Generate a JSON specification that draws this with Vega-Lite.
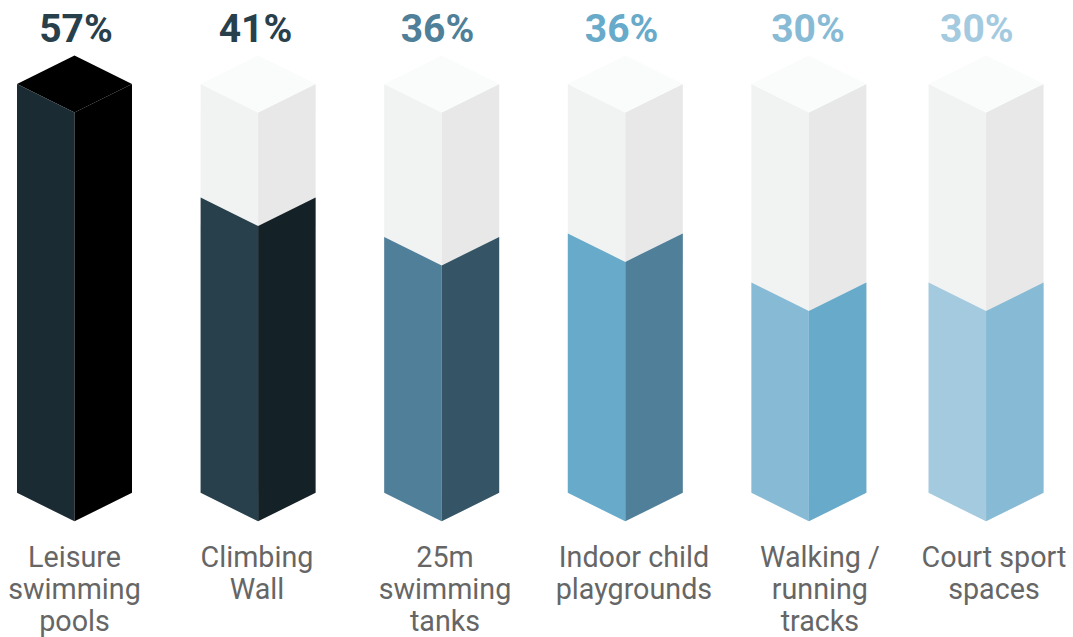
{
  "$schema": "https://vega.github.io/schema/vega-lite/v6.json",
  "autosize": {"type": "fit", "contains": "padding"},
  "width": 1073,
  "height": 637,
  "padding": 0,
  "background": "#ffffff",
  "config": {"view": {"stroke": null}},
  "params": [
    {"name": "rise", "value": 0.04},
    {"name": "halfWidth", "value": 0.3132}
  ],
  "data": {
    "values": [
      {"facility": "Leisure swimming pools", "name": "Leisure\nswimming\npools", "share": 0.5745, "slot": 0, "valueSlot": 0.008, "nameSlot": 0},
      {"facility": "Climbing Wall", "name": "Climbing\nWall", "share": 0.4149, "slot": 1, "valueSlot": 0.986, "nameSlot": 0.994},
      {"facility": "25m swimming tanks", "name": "25m\nswimming\ntanks", "share": 0.3595, "slot": 2, "valueSlot": 1.977, "nameSlot": 2.018},
      {"facility": "Indoor child playgrounds", "name": "Indoor child\nplaygrounds", "share": 0.3645, "slot": 3, "valueSlot": 2.98, "nameSlot": 3.047},
      {"facility": "Walking / running tracks", "name": "Walking /\nrunning\ntracks", "share": 0.2955, "slot": 4, "valueSlot": 3.995, "nameSlot": 4.06},
      {"facility": "Court sport spaces", "name": "Court sport\nspaces", "share": 0.2955, "slot": 4.965, "valueSlot": 4.915, "nameSlot": 5.008}
    ]
  },
  "transform": [
    {"joinaggregate": [{"op": "max", "field": "share", "as": "full"}]},
    {"calculate": "[-1, 0, 1]", "as": "edge"},
    {"flatten": ["edge"]},
    {"calculate": "datum.slot + datum.edge * halfWidth", "as": "px"},
    {"calculate": "rise * abs(datum.edge)", "as": "base"},
    {"calculate": "datum.share + datum.base", "as": "fillTop"},
    {"calculate": "datum.full + datum.base", "as": "columnTop"},
    {"calculate": "datum.full + 2 * rise - datum.base", "as": "capBack"}
  ],
  "encoding": {
    "x": {"field": "px", "type": "quantitative", "scale": {"domain": [-0.4058, 5.4386], "nice": false, "zero": false}, "axis": null}
  },
  "resolve": {"scale": {"color": "independent"}},
  "layer": [
    {
      "transform": [{"filter": "datum.edge <= 0"}],
      "mark": {"type": "area", "color": "#f1f3f3"},
      "encoding": {
        "detail": {"field": "facility"},
        "y": {"field": "columnTop", "type": "quantitative", "scale": {"domain": [-0.1584, 0.7325], "nice": false, "zero": false}, "axis": null},
        "y2": {"field": "base"}
      }
    },
    {
      "transform": [{"filter": "datum.edge >= 0"}],
      "mark": {"type": "area", "color": "#e8e8e8"},
      "encoding": {
        "detail": {"field": "facility"},
        "y": {"field": "columnTop", "type": "quantitative", "axis": null},
        "y2": {"field": "base"}
      }
    },
    {
      "mark": {"type": "area"},
      "encoding": {
        "color": {
          "field": "facility", "type": "nominal", "legend": null,
          "scale": {
            "domain": ["Leisure swimming pools", "Climbing Wall", "25m swimming tanks", "Indoor child playgrounds", "Walking / running tracks", "Court sport spaces"],
            "range": ["#000000", "#fafbfb", "#fafbfb", "#fafbfb", "#fafbfb", "#fafbfb"]
          }
        },
        "y": {"field": "capBack", "type": "quantitative", "axis": null},
        "y2": {"field": "columnTop"}
      }
    },
    {
      "transform": [{"filter": "datum.edge <= 0"}],
      "mark": {"type": "area"},
      "encoding": {
        "color": {
          "field": "facility", "type": "nominal", "legend": null,
          "scale": {
            "domain": ["Leisure swimming pools", "Climbing Wall", "25m swimming tanks", "Indoor child playgrounds", "Walking / running tracks", "Court sport spaces"],
            "range": ["#1b2b33", "#28404c", "#4f7f99", "#67aaca", "#87bbd5", "#a3cadf"]
          }
        },
        "y": {"field": "fillTop", "type": "quantitative", "axis": null},
        "y2": {"field": "base"}
      }
    },
    {
      "transform": [{"filter": "datum.edge >= 0"}],
      "mark": {"type": "area"},
      "encoding": {
        "color": {
          "field": "facility", "type": "nominal", "legend": null,
          "scale": {
            "domain": ["Leisure swimming pools", "Climbing Wall", "25m swimming tanks", "Indoor child playgrounds", "Walking / running tracks", "Court sport spaces"],
            "range": ["#000000", "#142127", "#355566", "#4f7f99", "#67aaca", "#87bbd5"]
          }
        },
        "y": {"field": "fillTop", "type": "quantitative", "axis": null},
        "y2": {"field": "base"}
      }
    },
    {
      "transform": [{"filter": "datum.edge == 0"}],
      "mark": {"type": "text", "font": "Roboto", "fontWeight": "bold", "fontSize": 39, "align": "center", "baseline": "alphabetic"},
      "encoding": {
        "x": {"field": "valueSlot", "type": "quantitative", "axis": null},
        "y": {"datum": 0.673, "type": "quantitative", "axis": null},
        "text": {"field": "share", "type": "quantitative", "format": ".0%"},
        "color": {
          "field": "facility", "type": "nominal", "legend": null,
          "scale": {
            "domain": ["Leisure swimming pools", "Climbing Wall", "25m swimming tanks", "Indoor child playgrounds", "Walking / running tracks", "Court sport spaces"],
            "range": ["#28404c", "#28404c", "#4f7f99", "#67aaca", "#87bbd5", "#a3cadf"]
          }
        }
      }
    },
    {
      "transform": [{"filter": "datum.edge == 0"}],
      "mark": {"type": "text", "font": "Roboto", "fontSize": 28.7, "align": "center", "baseline": "alphabetic", "lineBreak": "\n", "lineHeight": 32, "color": "#666666"},
      "encoding": {
        "x": {"field": "nameSlot", "type": "quantitative", "axis": null},
        "y": {"datum": -0.0645, "type": "quantitative", "axis": null},
        "text": {"field": "name", "type": "nominal"}
      }
    }
  ]
}
